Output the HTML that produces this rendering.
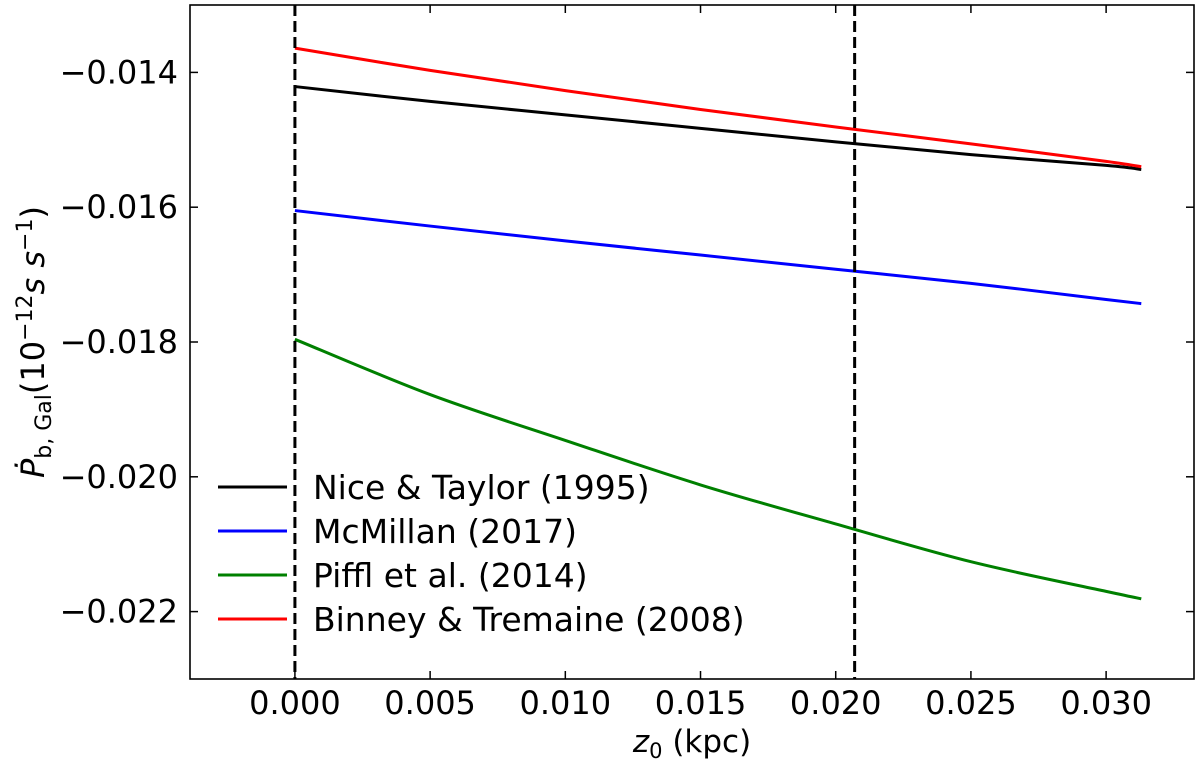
<!DOCTYPE html>
<html><head><meta charset="utf-8"><style>
body{margin:0;background:#fff}
svg text{font-family:"DejaVu Sans","Liberation Sans",sans-serif;fill:#000}
</style></head><body>
<svg id="c" width="1200" height="764">
<g id="g"></g>
</svg>
<script>
const xs=[0,0.005,0.01,0.015,0.02,0.025,0.03,0.0313];
const niceTaylor=[-0.01421,-0.01443,-0.01463,-0.01483,-0.01503,-0.01522,-0.01538,-0.01544];
const mcmillan=[-0.01605,-0.01628,-0.01650,-0.01671,-0.01692,-0.01713,-0.01737,-0.01743];
const piffl=[-0.01796,-0.01878,-0.01946,-0.02012,-0.02070,-0.02126,-0.02170,-0.02181];
const binney=[-0.01364,-0.01397,-0.01427,-0.01455,-0.01481,-0.01506,-0.01532,-0.01540];
const xTicks=[0,0.005,0.010,0.015,0.020,0.025,0.030];
const yTicks=[-0.014,-0.016,-0.018,-0.020,-0.022];
const vlines=[0,0.0207];
const names=["Nice & Taylor (1995)","McMillan (2017)","Piffl et al. (2014)","Binney & Tremaine (2008)"];
const colors=["#000","#00f","#008000","#f00"];
const L=190,R=1194,T=5,B=679;
const x0=-0.00388,x1=0.03325,y0=-0.023,y1=-0.013;
const X=v=>L+(v-x0)/(x1-x0)*(R-L);
const Y=v=>B-(v-y0)/(y1-y0)*(B-T);
const NS="http://www.w3.org/2000/svg";
const g=document.getElementById('g');
function mk(t,a,txt){const e=document.createElementNS(NS,t);for(const k in a)e.setAttribute(k,a[k]);if(txt!==undefined)e.textContent=txt;g.appendChild(e);return e;}
function smooth(pts){
 let d='M'+pts[0][0]+','+pts[0][1];
 for(let i=0;i<pts.length-1;i++){
  const p0=pts[Math.max(0,i-1)],p1=pts[i],p2=pts[i+1],p3=pts[Math.min(pts.length-1,i+2)];
  const c1=[p1[0]+(p2[0]-p0[0])/6,p1[1]+(p2[1]-p0[1])/6];
  const c2=[p2[0]-(p3[0]-p1[0])/6,p2[1]-(p3[1]-p1[1])/6];
  d+=' C'+c1+' '+c2+' '+p2;
 }
 return d;
}
[niceTaylor,mcmillan,piffl,binney].forEach((s,i)=>{
 const p=mk('path',{d:smooth(xs.map((x,j)=>[X(x),Y(s[j])])),fill:'none',stroke:colors[i],'stroke-width':3});
 
 
});
vlines.forEach((v,i)=>{
 const l=mk('line',{x1:X(v),x2:X(v),y1:T,y2:B,stroke:'#000','stroke-width':3,'stroke-dasharray':'11,5'});
 
 
});
const fr=mk('rect',{x:L,y:T,width:R-L,height:B-T,fill:'none',stroke:'#000','stroke-width':1.6});


xTicks.forEach(v=>{
 mk('line',{x1:X(v),x2:X(v),y1:B,y2:B-8,stroke:'#000','stroke-width':1.5});
 mk('line',{x1:X(v),x2:X(v),y1:T,y2:T+8,stroke:'#000','stroke-width':1.5});
 const t=mk('text',{x:X(v),y:B+35,'text-anchor':'middle','font-size':32},v.toFixed(3));
 
 
});
yTicks.forEach(v=>{
 mk('line',{x1:L,x2:L+8,y1:Y(v),y2:Y(v),stroke:'#000','stroke-width':1.5});
 mk('line',{x1:R,x2:R-8,y1:Y(v),y2:Y(v),stroke:'#000','stroke-width':1.5});
 const t=mk('text',{x:L-12,y:Y(v)+11,'text-anchor':'end','font-size':32},'\u2212'+Math.abs(v).toFixed(3));
 
 
});
names.forEach((n,i)=>{
 const y=487+i*44;
 const l=mk('line',{x1:218,x2:287,y1:y,y2:y,stroke:colors[i],'stroke-width':3});
 
 
 const t=mk('text',{x:313,y:y+12,'font-size':33},n);
 
 
});
const xt=mk('text',{x:692,y:752,'text-anchor':'middle','font-size':31});
xt.innerHTML='<tspan font-style="italic">z</tspan><tspan font-size="21" dy="6">0</tspan><tspan dy="-6"> (kpc)</tspan>';


const yt=mk('text',{x:0,y:0,'text-anchor':'middle','font-size':32,transform:'translate(44,342) rotate(-90)'});
yt.innerHTML='<tspan font-style="italic">Ṗ</tspan><tspan font-size="22" dy="7">b, Gal</tspan><tspan dy="-7">(10</tspan><tspan font-size="22" dy="-12">−12</tspan><tspan dy="12" font-style="italic">s s</tspan><tspan font-size="22" dy="-12">−1</tspan><tspan dy="12">)</tspan>';


</script>
</body></html>
